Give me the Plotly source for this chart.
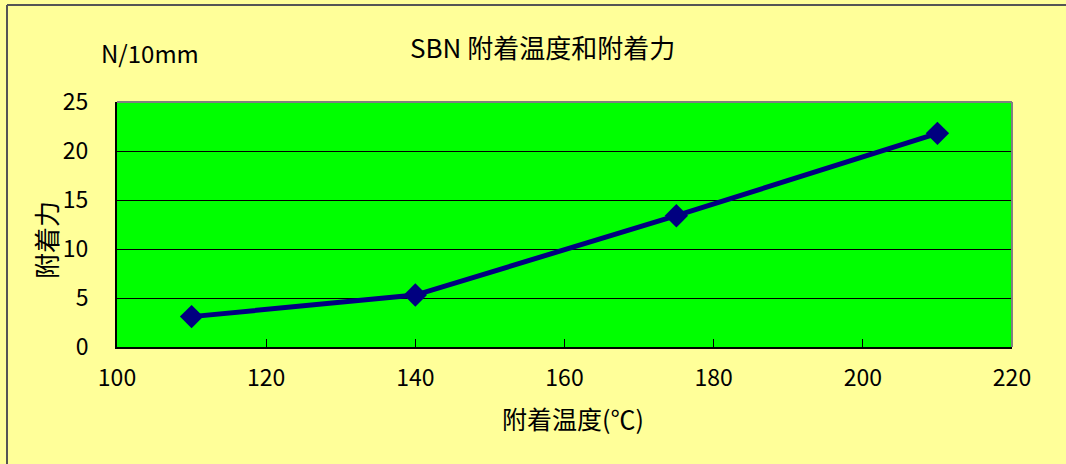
import plotly.graph_objects as go

temps = [110, 140, 175, 210]
force = [3.1, 5.3, 13.4, 21.8]
x_ticks = [100, 120, 140, 160, 180, 200, 220]
y_ticks = [0, 5, 10, 15, 20, 25]

FONT = "Noto Sans CJK SC, Noto Sans, sans-serif"
L, R, T, B = 117, 1012, 102, 347
W, H = 1066, 464
PW, PH = R - L, B - T


def px(x):
    return (x - L) / PW


def py(y):
    return (B - y) / PH


fig = go.Figure()
fig.add_trace(go.Scatter(
    x=temps, y=force, mode="lines+markers",
    line=dict(color="#000080", width=5),
    marker=dict(symbol="diamond", size=18, color="#000080"),
    showlegend=False,
))

fig.update_layout(
    width=W, height=H,
    margin=dict(l=L, r=W - R, t=T, b=H - B),
    paper_bgcolor="#FFFF99",
    plot_bgcolor="#00FF00",
    font=dict(family=FONT, size=23, color="black"),
    xaxis=dict(range=[100, 220], tickvals=x_ticks, showgrid=False,
               ticks="inside", ticklen=8, tickcolor="black", tickwidth=1,
               showline=True, linecolor="black", linewidth=2,
               zeroline=False, ticklabelstandoff=9),
    yaxis=dict(range=[0, 25], tickvals=y_ticks, showgrid=True,
               gridcolor="black", gridwidth=1, ticks="",
               showline=True, linecolor="black", linewidth=2,
               zeroline=False, ticklabelstandoff=22),
    shapes=[
        dict(type="line", xref="paper", yref="paper", x0=0, x1=1, y0=1, y1=1,
             line=dict(color="#808080", width=2)),
        dict(type="line", xref="paper", yref="paper", x0=1, x1=1, y0=0, y1=1,
             line=dict(color="#808080", width=2)),
        dict(type="line", xref="paper", yref="paper",
             x0=px(7), x1=px(W), y0=py(5), y1=py(5),
             line=dict(color="#555555", width=2)),
        dict(type="line", xref="paper", yref="paper",
             x0=px(7), x1=px(7), y0=py(H), y1=py(5),
             line=dict(color="#555555", width=2)),
    ],
    annotations=[
        dict(text="SBN 附着温度和附着力", xref="paper", yref="paper",
             x=px(542), y=py(47), xanchor="center", yanchor="middle",
             showarrow=False, font=dict(size=26, family=FONT)),
        dict(text="N/10mm", xref="paper", yref="paper",
             x=px(150), y=py(52), xanchor="center", yanchor="middle",
             showarrow=False, font=dict(size=24, family=FONT)),
        dict(text="附着力", xref="paper", yref="paper",
             x=px(45), y=py(240), xanchor="center", yanchor="middle",
             textangle=-90, showarrow=False, font=dict(size=26, family=FONT)),
        dict(text="附着温度(℃)", xref="paper", yref="paper",
             x=px(573), y=py(418), xanchor="center", yanchor="middle",
             showarrow=False, font=dict(size=25, family=FONT)),
    ],
)

fig.write_html("out.html", config={"displayModeBar": False},
               post_script="document.body.style.margin='0';")
